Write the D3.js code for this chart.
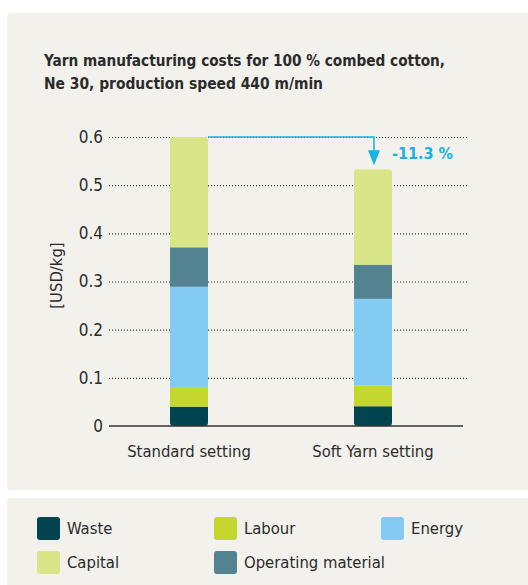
<!DOCTYPE html>
<html>
<head>
<meta charset="utf-8">
<script src="https://cdn.jsdelivr.net/npm/d3@7"></script>
<style>
  body { margin: 0; background: #fff; }
  text { font-family: "Liberation Sans Narrow", "DejaVu Sans Condensed", "Roboto", sans-serif; fill: #2b2b2b; }
</style>
</head>
<body>
<svg id="chart" width="528" height="585"></svg>
<script>
const svg = d3.select("#chart");

var categories = ["Standard setting", "Soft Yarn setting"];
var waste = [0.040, 0.041];
var labour = [0.041, 0.043];
var energy = [0.208, 0.180];
var operating = [0.082, 0.071];
var capital = [0.229, 0.198];
var yTicks = [0, 0.1, 0.2, 0.3, 0.4, 0.5, 0.6];
var seriesNames = ["Waste", "Labour", "Energy", "Operating material", "Capital"];
var seriesColors = ["#00444f", "#c4d72e", "#83cbf1", "#538391", "#d8e589"];
var legendOrder = ["Waste", "Labour", "Energy", "Capital", "Operating material"];
var changeLabel = "-11.3 %";

var rows = categories.map((c, i) => ({
  cat: c,
  "Waste": waste[i],
  "Labour": labour[i],
  "Energy": energy[i],
  "Operating material": operating[i],
  "Capital": capital[i]
}));
var stacked = d3.stack().keys(seriesNames)(rows);
var totals = rows.map(r => d3.sum(seriesNames, k => r[k]));

var colour = d3.scaleOrdinal().domain(seriesNames).range(seriesColors);

// panels
svg.append("rect").attr("x", 7).attr("y", 13).attr("width", 530).attr("height", 477)
  .attr("rx", 4).attr("fill", "#f2f1eb");
svg.append("rect").attr("x", 7).attr("y", 498).attr("width", 530).attr("height", 100)
  .attr("rx", 4).attr("fill", "#f2f1eb");

// title
var title = svg.append("text")
  .style("font-weight", "bold").style("font-size", "16.5px").attr("fill", "#1a1a1a");
title.append("tspan").attr("x", 44).attr("y", 66)
  .attr("textLength", 401).attr("lengthAdjust", "spacingAndGlyphs")
  .text("Yarn manufacturing costs for 100 % combed cotton,");
title.append("tspan").attr("x", 44).attr("y", 89)
  .attr("textLength", 279).attr("lengthAdjust", "spacingAndGlyphs")
  .text("Ne 30, production speed 440 m/min");

var yScale = d3.scaleLinear().domain([0, 0.6]).range([426, 137]);
var xScale = d3.scalePoint().domain(categories).range([189, 373]);
var barW = 38;

// grid / axis
var yAxis = d3.axisLeft(yScale).tickValues(yTicks)
  .tickFormat(d => d === 0 ? "0" : d3.format(".1f")(d))
  .tickSize(-359).tickPadding(6);
var yAxisG = svg.append("g").attr("transform", "translate(109,0)").call(yAxis);
yAxisG.select(".domain").remove();
yAxisG.selectAll(".tick line")
  .attr("stroke", "#333").attr("stroke-width", 1.2)
  .attr("stroke-dasharray", "1,2");
yAxisG.selectAll(".tick").filter(d => d === 0).select("line").remove();
yAxisG.selectAll(".tick text").style("font-size", "17px").attr("fill", "#2b2b2b");

svg.append("text")
  .attr("transform", `translate(62,${yScale(0.3) - 6}) rotate(-90)`)
  .attr("text-anchor", "middle").style("font-size", "16.5px")
  .text("[USD/kg]");

// bars
var defs = svg.append("defs");
categories.forEach((c, i) => {
  defs.append("clipPath").attr("id", "clip" + i)
    .append("rect")
    .attr("x", xScale(c) - barW / 2).attr("width", barW)
    .attr("y", yScale(totals[i])).attr("height", yScale(0) - yScale(totals[i]))
    .attr("rx", 3.5);
});

svg.append("g").selectAll("g").data(stacked).join("g")
  .attr("fill", d => colour(d.key))
  .selectAll("rect").data(d => d).join("rect")
  .attr("clip-path", (d, i) => `url(#clip${i})`)
  .attr("x", d => xScale(d.data.cat) - barW / 2)
  .attr("width", barW)
  .attr("y", d => yScale(d[1]))
  .attr("height", d => yScale(d[0]) - yScale(d[1]));

// baseline
svg.append("line").attr("x1", 109).attr("x2", 463)
  .attr("y1", yScale(0)).attr("y2", yScale(0))
  .attr("stroke", "#333").attr("stroke-width", 1.5);

// category labels
svg.append("g").selectAll("text").data(categories).join("text")
  .attr("x", d => xScale(d)).attr("y", 457)
  .attr("text-anchor", "middle").style("font-size", "16.5px")
  .text(d => d);

// change arrow
var arrowColour = "#14b2e7";
var x0 = xScale(categories[0]) + barW / 2;
var x1 = xScale(categories[1]) + 1;
var yTop = yScale(totals[0]);
var yTip = yScale(totals[1]) - 4;
svg.append("path")
  .attr("d", `M${x0},${yTop}H${x1}V${yTip - 12}`)
  .attr("fill", "none").attr("stroke", arrowColour).attr("stroke-width", 1.5);
svg.append("path")
  .attr("d", `M${x1 - 6},${yTip - 15}L${x1 + 6},${yTip - 15}L${x1},${yTip}Z`)
  .attr("fill", arrowColour);
svg.append("text").attr("x", x1 + 18).attr("y", 159)
  .style("font-size", "16px").style("font-weight", "bold")
  .style("fill", arrowColour)
  .text(changeLabel);

// legend
var legX = [37, 214, 381];
var legY = [517, 551];
var leg = svg.append("g").selectAll("g").data(legendOrder).join("g")
  .attr("transform", (d, i) => `translate(${legX[i % 3]},${legY[Math.floor(i / 3)]})`);
leg.append("rect").attr("width", 23).attr("height", 23).attr("rx", 3)
  .attr("fill", d => colour(d));
leg.append("text").attr("x", 30).attr("y", 17).style("font-size", "16.5px")
  .text(d => d);
</script>
</body>
</html>
